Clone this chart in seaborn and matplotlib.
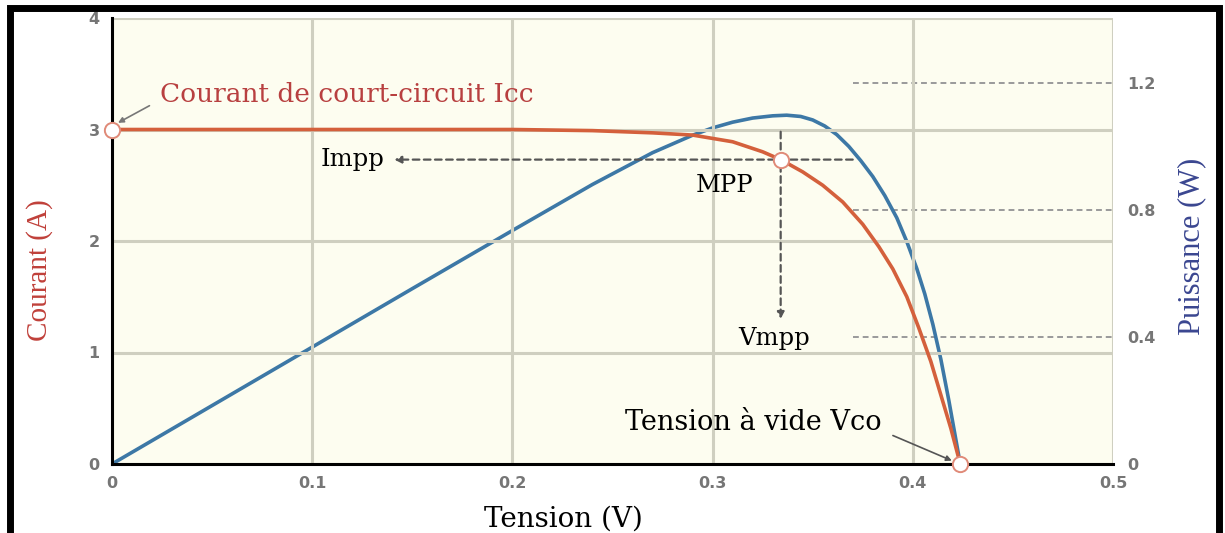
import numpy as np
import pandas as pd
import matplotlib
matplotlib.use("Agg")
import matplotlib.pyplot as plt
import seaborn as sns
from matplotlib.patches import Rectangle

# ---- data ----
tension_i = [0.0, 0.05, 0.10, 0.15, 0.20, 0.24, 0.27, 0.29, 0.31, 0.325, 0.334,
             0.345, 0.355, 0.365, 0.375, 0.383, 0.390, 0.397, 0.403, 0.409,
             0.414, 0.419, 0.4237]
courant = [3.00, 3.00, 3.00, 3.00, 3.00, 2.99, 2.97, 2.95, 2.89, 2.80, 2.73,
           2.62, 2.50, 2.35, 2.15, 1.95, 1.75, 1.50, 1.22, 0.92,
           0.62, 0.32, 0.0]

tension_p = [0.0, 0.05, 0.10, 0.15, 0.20, 0.24, 0.27, 0.29, 0.30, 0.31, 0.32,
             0.33, 0.337, 0.344, 0.350, 0.356, 0.362, 0.368, 0.374, 0.380,
             0.386, 0.392, 0.397, 0.402, 0.406, 0.410, 0.414, 0.418, 0.4237]
puissance = [0.0, 0.184, 0.368, 0.552, 0.735, 0.88, 0.98, 1.035, 1.058, 1.076, 1.089,
             1.096, 1.098, 1.094, 1.083, 1.064, 1.037, 1.000, 0.955, 0.905,
             0.845, 0.775, 0.70, 0.615, 0.535, 0.44, 0.33, 0.20, 0.0]

x_ticks = [0, 0.1, 0.2, 0.3, 0.4, 0.5]
x_ticklabels = ["0", "0.1", "0.2", "0.3", "0.4", "0.5"]
y_ticks = [0, 1, 2, 3, 4]
y2_ticks = [0, 0.4, 0.8, 1.2]
y2_ticklabels = ["0", "0.4", "0.8", "1.2"]

icc = (0.0, 3.0)
mpp = (0.334, 2.73)
vco = (0.4237, 0.0)

df_i = pd.DataFrame({"Tension": tension_i, "Courant": courant})
df_p = pd.DataFrame({"Tension": tension_p, "Puissance": puissance})

# ---- style ----
sns.set_style("white")
serif = ["DejaVu Serif", "Liberation Serif"]
tserif = ["Liberation Serif", "DejaVu Serif"]
sans = ["DejaVu Sans", "Liberation Sans"]

RED = "#d4603c"
BLUE = "#3d78a6"
GRID = "#cfcfc0"
TICKC = "#767676"

fig = plt.figure(figsize=(12.25, 5.33), dpi=100)
fig.patch.set_facecolor("white")
ax = fig.add_axes([112 / 1225, 1 - 464 / 533, (1113 - 112) / 1225, (464 - 18) / 533])

sns.lineplot(data=df_i, x="Tension", y="Courant", ax=ax, color=RED, lw=2.6,
             sort=False, zorder=4)
ax.set_xlim(0, 0.5)
ax.set_ylim(0, 4.0)

ax2 = ax.twinx()
sns.lineplot(data=df_p, x="Tension", y="Puissance", ax=ax2, color=BLUE, lw=2.6,
             sort=False, zorder=3)
ax2.set_ylim(0, 4.0 * 111 / 316.25)
ax2.set_xlim(0, 0.5)

# grid
ax.set_xticks(x_ticks)
ax.set_yticks(y_ticks)
ax.grid(True, color=GRID, lw=2.2, zorder=0)
ax.set_axisbelow(True)
ax.set_zorder(ax2.get_zorder() + 1)
ax.patch.set_visible(False)
ax2.patch.set_visible(True)
ax2.patch.set_facecolor("#fdfdf0")
for s in ["top", "right"]:
    ax.spines[s].set_visible(False)
for s in ax2.spines.values():
    s.set_visible(False)
ax.spines["left"].set_color("black")
ax.spines["left"].set_linewidth(2.2)
ax.spines["bottom"].set_color("black")
ax.spines["bottom"].set_linewidth(2.2)

ax.set_xticklabels(x_ticklabels)
ax.tick_params(axis="both", length=0, labelsize=11.5, labelcolor=TICKC, pad=9)
for lab in ax.get_xticklabels() + ax.get_yticklabels():
    lab.set_family(sans)
    lab.set_fontweight("bold")
ax.set_xlabel("")
ax.set_ylabel("")

ax2.set_yticks(y2_ticks)
ax2.set_yticklabels(y2_ticklabels)
ax2.tick_params(axis="y", length=0, labelsize=11.5, labelcolor=TICKC, pad=10)
for lab in ax2.get_yticklabels():
    lab.set_family(sans)
    lab.set_fontweight("bold")
ax2.set_ylabel("")
ax2.hlines(y2_ticks[1:], 0.37, 0.5, colors="#9a9a9a", linestyles=(0, (3, 2)), lw=1.4,
           zorder=2)

# axis labels
fig.text(40 / 1225, 1 - 270 / 533, "Courant (A)", rotation=90, ha="center", va="center",
         fontsize=21, color="#c0403a", family=tserif)
fig.text(1192 / 1225, 1 - 246 / 533, "Puissance (W)", rotation=90, ha="center",
         va="center", fontsize=22, color="#3a4690", family=tserif)
fig.text(563 / 1225, 0.0, "Tension (V)", ha="center", va="bottom", fontsize=20,
         color="black", family=serif)

# markers
ax.plot([icc[0]], [icc[1]], "o", ms=11, mfc="white", mec="#e08a78", mew=1.4,
        zorder=6, clip_on=False)
ax.plot([mpp[0]], [mpp[1]], "o", ms=11, mfc="white", mec="#e08a78", mew=1.4,
        zorder=6)
ax.plot([vco[0]], [vco[1]], "o", ms=11, mfc="white", mec="#e08a78", mew=1.4,
        zorder=6, clip_on=False)

# MPP dashed guides
ax.annotate("", xy=(0.141, mpp[1]), xytext=(0.37, mpp[1]),
            arrowprops=dict(arrowstyle="-|>", ls=(0, (3, 2)), color="#555555", lw=1.6,
                            mutation_scale=10, shrinkA=0, shrinkB=0), zorder=5)
ax.annotate("", xy=(mpp[0], 1.30), xytext=(mpp[0], 2.98),
            arrowprops=dict(arrowstyle="-|>", ls=(0, (3, 2)), color="#555555", lw=1.6,
                            mutation_scale=10, shrinkA=0, shrinkB=0), zorder=5)

txt = dict(family=serif, fontsize=17.5, color="black", zorder=7)
ax.text(0.136, mpp[1], "Impp", ha="right", va="center", **txt)
ax.text(0.3205, 2.50, "MPP", ha="right", va="center", **txt)
ax.text(0.3305, 1.13, "Vmpp", ha="center", va="center", **txt)

ax.annotate("Courant de court-circuit Icc", xy=(0.003, 3.06), xytext=(0.024, 3.31),
            ha="left", va="center", family=serif, fontsize=19, color="#b84040",
            arrowprops=dict(arrowstyle="-|>", color="#777777", lw=1.2,
                            mutation_scale=8, shrinkA=6, shrinkB=0,
                            relpos=(0.0, 0.3)), zorder=7)
ax.annotate("Tension à vide Vco", xy=(0.4195, 0.03), xytext=(0.3205, 0.37),
            ha="center", va="center", family=serif, fontsize=19.5, color="black",
            arrowprops=dict(arrowstyle="-|>", color="#555555", lw=1.2,
                            mutation_scale=8, shrinkA=6, shrinkB=0,
                            relpos=(1.0, 0.2)), zorder=7)

# black outer frame
frame = Rectangle((10 / 1225, -0.05), (1219 - 10) / 1225, 1.05 - 8 / 533,
                  transform=fig.transFigure, fill=False, ec="black", lw=5,
                  zorder=10)
fig.patches.append(frame)

fig.savefig("out.png", dpi=100)
